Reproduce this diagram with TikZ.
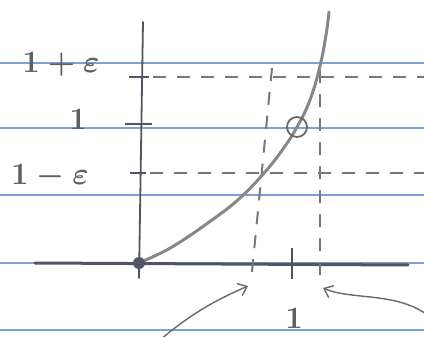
\documentclass[tikz,border=0pt]{standalone}
\usetikzlibrary{arrows.meta}
\definecolor{ruleblue}{RGB}{125,160,215}
\definecolor{pencil}{RGB}{105,105,105}
\definecolor{lead}{RGB}{80,85,95}

\begin{document}
\begin{tikzpicture}[
  x=1pt, y=-1pt,
  pen/.style={draw=pencil, line width=1.8pt, line cap=round},
  curve/.style={draw=pencil!80, line width=3pt, line cap=round},
  guide/.style={draw=pencil!90, line width=2pt, dash pattern=on 13pt off 11pt},
  tickmark/.style={draw=lead, line width=2.8pt},
  lbl/.style={text=pencil!90!black, font=\huge\boldmath, scale=1.5, anchor=base, inner sep=0pt},
  arr/.style={pen, line width=1.4pt, -{Straight Barb[length=8pt,width=13pt]}},
]
\useasboundingbox (0,0) rectangle (424,337);

% ---- ruled paper ----
\foreach \y in {63,128,195,263,330}
  \draw[ruleblue, line width=1.3pt] (0,\y) -- (424,\y);

% ---- axes ----
\coordinate (O) at (139,263);
\coordinate (ytop) at (143,22);
\coordinate (ybot) at (139,278);
\coordinate (xleft) at (35,263);
\coordinate (xright) at (408,265);
\draw[lead, line width=3pt, line cap=round] (xleft) -- (xright);
\draw[pen, draw=lead] (ybot) -- (ytop);

% ---- ticks on the y axis ----
\coordinate (yp) at (141,77);
\coordinate (y1) at (140,124);
\coordinate (ym) at (140,173);
\draw[tickmark] ([xshift=-12pt]yp) -- ([xshift=8pt]yp);
\draw[tickmark] ([xshift=-15pt]y1) -- ([xshift=12pt]y1);
\draw[tickmark] ([xshift=-10pt]ym) -- ([xshift=6pt]ym);
\node[lbl] (lblp) at (61,73) {$1+\varepsilon$};
\node[lbl] (lbl1) at (78,130) {$1$};
\node[lbl] (lblm) at (50,185) {$1-\varepsilon$};

% ---- epsilon band and the matching x interval ----
\coordinate (bandp) at (424,77);
\coordinate (bandm) at (424,173);
\draw[guide] ([xshift=12pt]yp) -- (bandp);
\draw[guide] ([xshift=10pt]ym) -- (bandm);
\coordinate (vLtop) at (272,68);
\coordinate (vLbot) at (251,282);
\coordinate (vRtop) at (320,70);
\coordinate (vRbot) at (320,280);
\draw[guide] (vLtop) -- (vLbot);
\draw[guide] (vRtop) -- (vRbot);

% ---- the graph ----
\draw[curve] plot[smooth, tension=0.7] coordinates
  {(141,262) (172,247) (212,220) (240,198) (265,172) (283,149)
   (297,127) (310,100) (320,66) (326,35) (329,12)};
\node[draw=pencil, line width=1.8pt, circle, minimum size=20pt, inner sep=0pt] (hole) at (297,127) {};
\fill[lead] (O) circle (6pt);

% ---- the point 1 on the x axis ----
\coordinate (x1) at (292,264);
\draw[tickmark] ([yshift=-15pt]x1) -- ([yshift=16pt]x1);
\node[lbl] (lblx) at (294,329) {$1$};

% ---- pointers to the interval ends ----
\coordinate (aLstart) at (160,340);
\coordinate (aLtip) at (248,286);
\coordinate (aRstart) at (426,314);
\coordinate (aRtip) at (323,288);
\draw[arr] (aLstart) .. controls (195,310) and (225,296) .. (aLtip);
\draw[arr] (aRstart) .. controls (395,292) and (350,300) .. (aRtip);
\end{tikzpicture}
\end{document}
